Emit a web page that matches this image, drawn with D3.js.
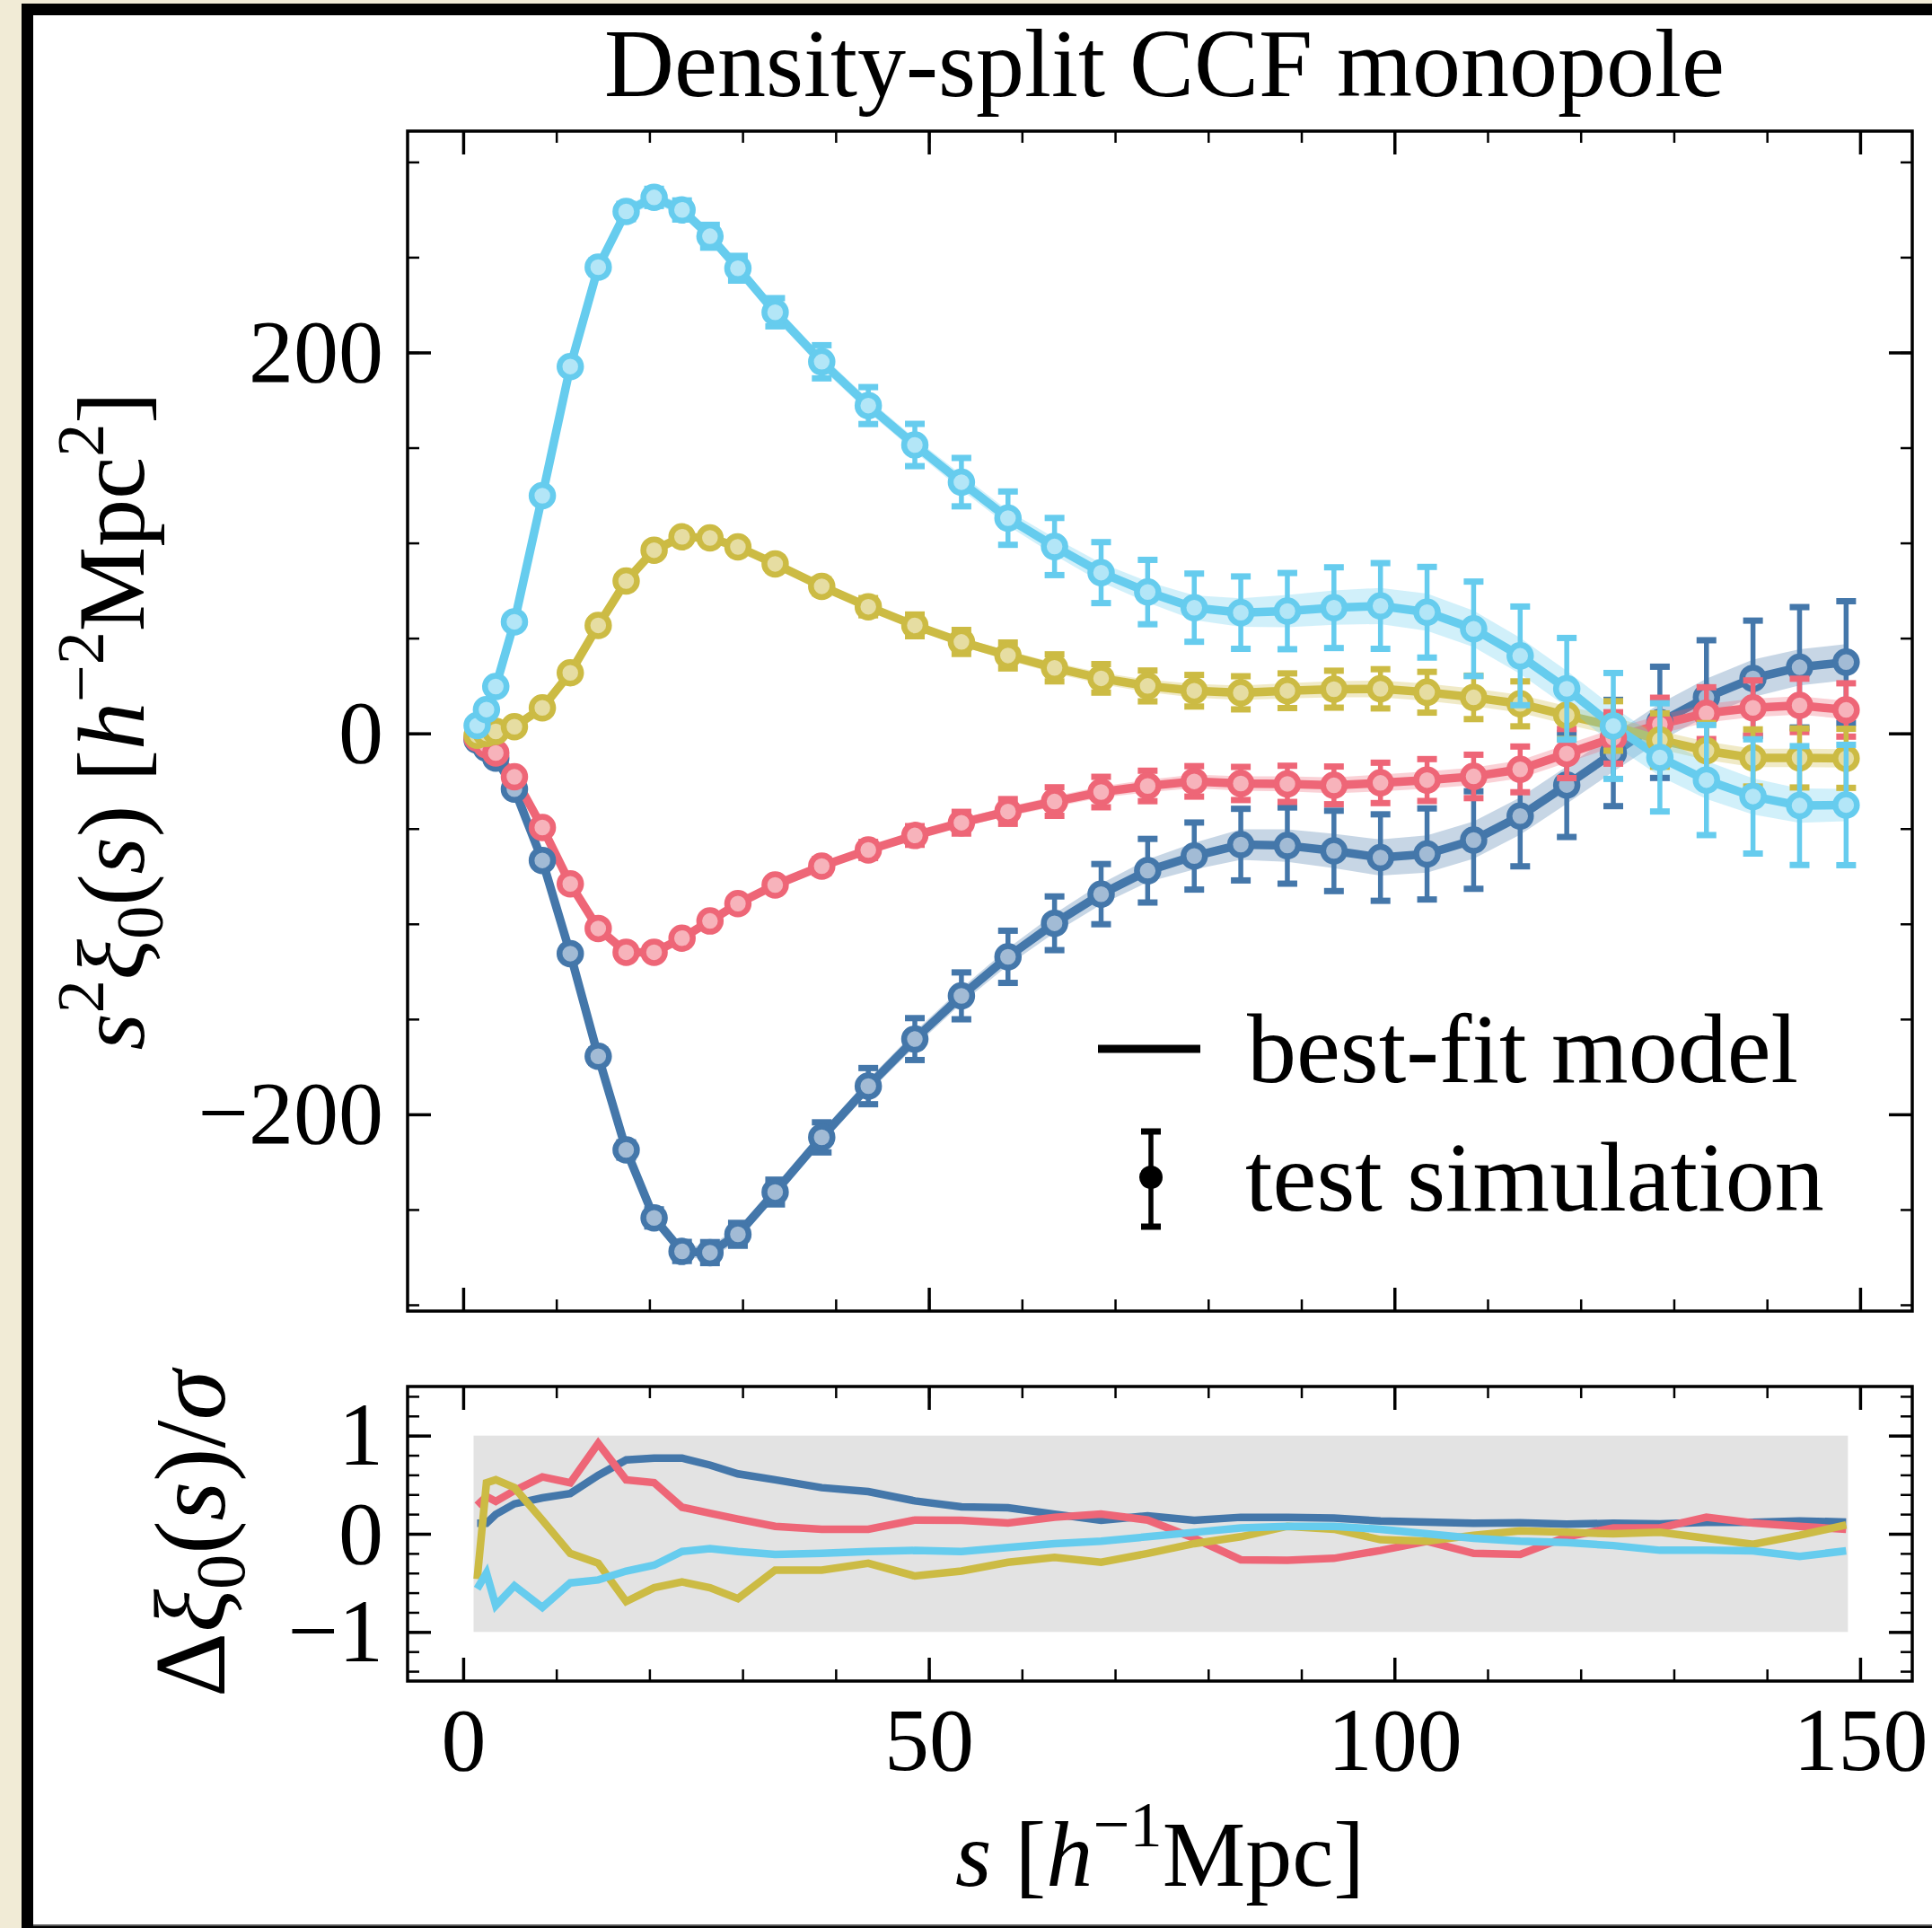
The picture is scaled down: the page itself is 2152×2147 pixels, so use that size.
<!DOCTYPE html>
<html><head><meta charset="utf-8">
<script src="https://cdn.jsdelivr.net/npm/d3@7"></script>
<style>html,body{margin:0;padding:0;background:#f1ebd6}svg{display:block}</style>
</head><body>
<script>
// ---------------- data ----------------
const sValues = [1.5,2.5,3.5,5.5,8.5,11.5,14.5,17.5,20.5,23.5,26.5,29.5,33.5,38.5,43.5,48.5,53.5,58.5,63.5,68.5,73.5,78.5,83.5,88.5,93.5,98.5,103.5,108.5,113.5,118.5,123.5,128.5,133.5,138.5,143.5,148.5];

const ds1Values = [-3.5,-7.8,-13,-29.3,-66.7,-115.6,-169.5,-218.7,-254.4,-272,-272.6,-263,-240.8,-212.1,-185.2,-160.5,-137.8,-117.3,-99.7,-84.4,-72.1,-64.4,-58.4,-58.9,-61.7,-65.2,-63.3,-56,-43.4,-27.1,-10.3,5.8,18.9,28.9,34.7,37.4];
const ds2Values = [-2.5,-6,-10.3,-22.8,-49.4,-79,-102.4,-114.9,-114.9,-107.5,-98.5,-89.4,-79.6,-69.7,-61.2,-53.6,-46.9,-41,-35.8,-30.8,-27.6,-25.2,-26.3,-26.5,-27.3,-26,-24.5,-22.6,-18.9,-10.6,-2.4,4.7,10.6,13.4,14.7,12.3];
const ds4Values = [-1,0,1,3.5,13.4,31.8,56.7,80,96.2,103.2,102.6,97.9,89,77.2,66.5,56.7,48,40.9,34.4,28.9,24.9,22.4,21.3,22.4,23.2,23.4,21.6,18.9,15.5,9.5,3.9,-3.5,-9.1,-12.9,-12.9,-13.1];
const ds5Values = [4.1,12.5,24.6,58.6,124.8,192.6,244.8,274,281.4,274.8,261,244.2,221.1,195.1,172.1,151.4,131.9,113,98.1,84.4,74.2,66,63.4,64.2,66,66.9,63.6,54.9,40.7,23.4,3.9,-12.6,-24.5,-33.1,-37.9,-37.6];

const ds1Errors = [1,1,1.5,2,2.5,3,3.5,4,4.5,5,5.5,6,6.5,7.9,9.5,11,12.3,13.7,14.1,15.8,16.7,17.6,18.8,20,21.1,22.7,23.9,25.6,26.4,27.3,27.9,29.2,30,30.3,31.6,32];
const ds2Errors = [0.5,0.5,0.8,1,1.2,1.5,1.8,2,2.2,2.5,2.8,3,3.3,3.7,4.2,4.9,5.7,6.5,7.5,8,8,8,8.7,9.5,9.9,10.6,11,11.4,12,12.9,13.5,14,13.6,14.4,14,14];
const ds4Errors = [0.5,0.5,0.8,1,1.2,1.5,1.8,2,2.2,2.5,2.8,3,3.3,3.7,4.5,5.7,6.3,6.8,7.1,7.5,8.1,8.3,8.7,9.1,9.7,10.3,10.7,11.4,11.8,12.5,13,14,14.5,15,15.5,15.5];
const ds5Errors = [1,1,1.5,2,2.5,3,3.5,4,4.5,5,6,6.5,7.4,8.7,9.7,11.1,12.7,14,15,16,16.9,17.9,19,20,21.2,22.5,23.8,24.8,25.9,26.7,27.8,28.4,28.9,30,31.2,31.6];

const ds1Band = [1,1,1.5,2,2.5,3,3,3,3,3,3.5,3.5,3.5,3.5,3.5,4,4,4.5,5,5.5,6,7,8,8.5,9,9.5,9.8,9.8,9.8,9.8,9.8,9.8,9.8,9.8,9.5,9.5];
const ds2Band = [0.5,0.5,0.8,1,1,1.2,1.2,1.3,1.3,1.4,1.5,1.5,1.6,1.7,1.8,2,2.2,2.5,2.8,3,3.3,3.6,3.8,4,4.2,4.4,4.5,4.6,4.7,4.8,4.8,4.8,4.8,4.8,4.8,4.8];
const ds4Band = [0.5,0.5,0.8,1,1,1.2,1.2,1.3,1.3,1.4,1.5,1.5,1.6,1.7,1.8,2,2.2,2.5,2.8,3,3.3,3.6,3.8,4,4.2,4.4,4.5,4.6,4.7,4.8,4.8,4.8,4.8,4.8,4.8,4.8];
const ds5Band = [1,1,1.5,2,2.5,3,3,3,3,3,3.5,3.5,3.5,3.5,3.5,3.5,4,4,4.5,5,5.5,6.5,7.5,8.5,9,9.5,9.8,9.5,9.5,9.5,10,10,10,9.5,9,8.5];

const ds1Residual = [0.107,0.107,0.198,0.305,0.366,0.41,0.595,0.753,0.771,0.771,0.70,0.61,0.55,0.47,0.43,0.335,0.274,0.265,0.2,0.137,0.183,0.137,0.168,0.168,0.16,0.13,0.12,0.107,0.113,0.098,0.107,0.1,0.116,0.116,0.13,0.12];
const ds2Residual = [0.29,0.38,0.33,0.44,0.58,0.52,0.92,0.55,0.52,0.27,0.21,0.15,0.076,0.046,0.046,0.14,0.137,0.11,0.168,0.2,0.14,-0.046,-0.265,-0.27,-0.25,-0.17,-0.076,-0.2,-0.21,-0.03,0.06,0.06,0.168,0.11,0.076,0.046];
const ds4Residual = [-0.46,0.52,0.55,0.47,0.14,-0.2,-0.3,-0.69,-0.55,-0.49,-0.55,-0.66,-0.37,-0.37,-0.3,-0.43,-0.38,-0.29,-0.24,-0.29,-0.2,-0.1,-0.03,0.076,0.046,-0.06,-0.076,-0.015,0.03,0.015,0.0,0.015,-0.046,-0.107,-0.015,0.09];
const ds5Residual = [-0.56,-0.4,-0.73,-0.53,-0.75,-0.5,-0.47,-0.38,-0.32,-0.18,-0.15,-0.18,-0.21,-0.2,-0.18,-0.17,-0.18,-0.14,-0.1,-0.076,-0.03,0.015,0.06,0.076,0.076,0.046,0.0,-0.046,-0.076,-0.09,-0.12,-0.168,-0.168,-0.174,-0.23,-0.174];

const xMajorTicks = [0,50,100,150];
const yMainMajorTicks = [-200,0,200];
const yResMajorTicks = [-1,0,1];
const legendLabels = ["best-fit model","test simulation"];
const titleText = "Density-split CCF monopole";

const series = [
  {name:"DS1", color:"#4477AA", values:ds1Values, errors:ds1Errors, band:ds1Band, residual:ds1Residual},
  {name:"DS2", color:"#EE6677", values:ds2Values, errors:ds2Errors, band:ds2Band, residual:ds2Residual},
  {name:"DS4", color:"#CCBB44", values:ds4Values, errors:ds4Errors, band:ds4Band, residual:ds4Residual},
  {name:"DS5", color:"#66CCEE", values:ds5Values, errors:ds5Errors, band:ds5Band, residual:ds5Residual}
];

// ---------------- layout ----------------
const W = 2152, H = 2147;
const FONT = "'Liberation Serif','Times New Roman',serif";
const L = 454, R = 2130;
const mainTop = 146, mainBot = 1460;
const resTop = 1544, resBot = 1872;

const svg = d3.select("body").append("svg").attr("width", W).attr("height", H);

// frame
svg.append("rect").attr("x",0).attr("y",0).attr("width",W).attr("height",H).attr("fill","#f1ebd6");
svg.append("rect").attr("x",24).attr("y",4).attr("width",W-24).attr("height",H-4).attr("fill","#000");
svg.append("rect").attr("x",37).attr("y",17).attr("width",W-37).attr("height",2126).attr("fill","#fff");
svg.append("rect").attr("x",37).attr("y",2143).attr("width",W-37).attr("height",2).attr("fill","#555");

const x = d3.scaleLinear().domain([-5.97,155.6]).range([L,R]);
const yMain = d3.scaleLinear().domain([-303.3,316.2]).range([mainBot,mainTop]);
const yRes = d3.scaleLinear().domain([-1.5,1.5]).range([resBot,resTop]);

const light = c => d3.interpolateRgb(c, "#fff")(0.5);

// ---------- main panel ----------
const gMain = svg.append("g");
const pts = s => sValues.map((v,i)=>({s:v, v:s.values[i], e:s.errors[i], b:s.band[i]}));

series.forEach(s => {
  const d = pts(s);
  gMain.append("path").datum(d)
    .attr("d", d3.area().x(p=>x(p.s)).y0(p=>yMain(p.v-p.b)).y1(p=>yMain(p.v+p.b)))
    .attr("fill", s.color).attr("fill-opacity", 0.3);
  gMain.append("path").datum(d)
    .attr("d", d3.line().x(p=>x(p.s)).y(p=>yMain(p.v)))
    .attr("fill","none").attr("stroke", s.color).attr("stroke-width", 9.5).attr("stroke-linejoin","round");
});
series.forEach(s => {
  const d = pts(s);
  const g = gMain.append("g");
  g.selectAll("line.eb").data(d).join("line").attr("class","eb")
    .attr("x1",p=>x(p.s)).attr("x2",p=>x(p.s))
    .attr("y1",p=>yMain(p.v-p.e)).attr("y2",p=>yMain(p.v+p.e))
    .attr("stroke", s.color).attr("stroke-width", 5.5);
  ["lo","hi"].forEach(k => {
    g.selectAll("line.cap"+k).data(d).join("line").attr("class","cap"+k)
      .attr("x1",p=>x(p.s)-11).attr("x2",p=>x(p.s)+11)
      .attr("y1",p=>yMain(k==="lo"?p.v-p.e:p.v+p.e)).attr("y2",p=>yMain(k==="lo"?p.v-p.e:p.v+p.e))
      .attr("stroke", s.color).attr("stroke-width", 7);
  });
  g.selectAll("circle").data(d).join("circle")
    .attr("cx",p=>x(p.s)).attr("cy",p=>yMain(p.v)).attr("r",12)
    .attr("fill", light(s.color)).attr("stroke", s.color).attr("stroke-width", 6.5);
});

// ---------- residual panel ----------
const gRes = svg.append("g");
gRes.append("rect")
  .attr("x", x(sValues[0])-4).attr("width", x(sValues[sValues.length-1])-x(sValues[0])+6)
  .attr("y", yRes(1)).attr("height", yRes(-1)-yRes(1))
  .attr("fill", "#e3e3e3");
series.forEach(s => {
  gRes.append("path").datum(sValues.map((v,i)=>[v, s.residual[i]]))
    .attr("d", d3.line().x(p=>x(p[0])).y(p=>yRes(p[1])))
    .attr("fill","none").attr("stroke", s.color).attr("stroke-width", 8.5).attr("stroke-linejoin","miter");
});

// ---------- axes ----------
function styleAxis(g, fs){
  g.select(".domain").remove();
  g.selectAll(".tick line").attr("stroke","#000");
  g.selectAll("text").attr("font-family",FONT).attr("font-size",fs).attr("fill","#000");
}
function drawFrame(top, bot, yScale, yMajor, yMinorStep, showX){
  const minorX = d3.range(0, 156, 10);
  const yd = yScale.domain();
  const minorY = d3.range(Math.ceil(yd[0]/yMinorStep)*yMinorStep, yd[1]+1e-9, yMinorStep);
  const h = bot-top, w = R-L;
  let g = svg.append("g").attr("transform",`translate(0,${bot})`)
    .call(d3.axisBottom(x).tickValues(minorX).tickSize(-13).tickFormat(""));
  styleAxis(g); g.selectAll(".tick line").attr("stroke-width",2.5);
  g = svg.append("g").attr("transform",`translate(0,${bot})`)
    .call(d3.axisBottom(x).tickValues(xMajorTicks).tickSize(-26).tickPadding(28)
      .tickFormat(showX ? d3.format("d") : ""));
  styleAxis(g, 100); g.selectAll(".tick line").attr("stroke-width",3.5);
  g = svg.append("g").attr("transform",`translate(0,${top})`)
    .call(d3.axisTop(x).tickValues(minorX).tickSize(-13).tickFormat(""));
  styleAxis(g); g.selectAll(".tick line").attr("stroke-width",2.5);
  g = svg.append("g").attr("transform",`translate(0,${top})`)
    .call(d3.axisTop(x).tickValues(xMajorTicks).tickSize(-26).tickFormat(""));
  styleAxis(g); g.selectAll(".tick line").attr("stroke-width",3.5);
  g = svg.append("g").attr("transform",`translate(${L},0)`)
    .call(d3.axisLeft(yScale).tickValues(minorY).tickSize(-13).tickFormat(""));
  styleAxis(g); g.selectAll(".tick line").attr("stroke-width",2.5);
  g = svg.append("g").attr("transform",`translate(${L},0)`)
    .call(d3.axisLeft(yScale).tickValues(yMajor).tickSize(-26).tickPadding(27).tickFormat(d3.format("d")));
  styleAxis(g, 100); g.selectAll(".tick line").attr("stroke-width",3.5);
  g = svg.append("g").attr("transform",`translate(${R},0)`)
    .call(d3.axisRight(yScale).tickValues(minorY).tickSize(-13).tickFormat(""));
  styleAxis(g); g.selectAll(".tick line").attr("stroke-width",2.5);
  g = svg.append("g").attr("transform",`translate(${R},0)`)
    .call(d3.axisRight(yScale).tickValues(yMajor).tickSize(-26).tickFormat(""));
  styleAxis(g); g.selectAll(".tick line").attr("stroke-width",3.5);
  svg.append("rect").attr("x",L).attr("y",top).attr("width",w).attr("height",h)
    .attr("fill","none").attr("stroke","#000").attr("stroke-width",3.5);
}
drawFrame(mainTop, mainBot, yMain, yMainMajorTicks, 50, false);
drawFrame(resTop, resBot, yRes, yResMajorTicks, 0.2, true);

// ---------- text helpers ----------
function mathText(g, parts, fs){
  const t = g.append("text").attr("font-family",FONT).attr("font-size",fs).attr("fill","#000");
  let cur = 0;
  parts.forEach(p => {
    const target = p.sup ? -0.42*fs : p.sub ? 0.2*fs : 0;
    t.append("tspan").text(p.t)
      .attr("dy", target-cur)
      .attr("font-style", p.i ? "italic" : "normal")
      .attr("font-size", (p.sup||p.sub) ? fs*0.7 : fs);
    cur = target;
  });
  return t;
}

svg.append("text").attr("x",1297).attr("y",107).attr("text-anchor","middle")
  .attr("font-family",FONT).attr("font-size",108).text(titleText);

mathText(svg.append("g").attr("transform","translate(1292,2100)"),
  [{t:"s",i:true},{t:" ["},{t:"h",i:true},{t:"−1",sup:true},{t:"Mpc"},{t:"]"}], 104)
  .attr("text-anchor","middle");

mathText(svg.append("g").attr("transform","translate(160,803) rotate(-90)"),
  [{t:"s",i:true},{t:"2",sup:true},{t:"ξ",i:true},{t:"0",sub:true},{t:"("},{t:"s",i:true},{t:") ["},
   {t:"h",i:true},{t:"−2",sup:true},{t:"Mpc"},{t:"2",sup:true},{t:"]"}], 106)
  .attr("text-anchor","middle");

mathText(svg.append("g").attr("transform","translate(250,1708) rotate(-90)"),
  [{t:"Δ"},{t:"ξ",i:true},{t:"0",sub:true},{t:"("},{t:"s",i:true},{t:")/"},{t:"σ",i:true}], 112)
  .attr("text-anchor","middle");

// legend
const lg = svg.append("g");
lg.append("line").attr("x1",1223).attr("x2",1337).attr("y1",1168).attr("y2",1168)
  .attr("stroke","#000").attr("stroke-width",9);
lg.append("line").attr("x1",1282).attr("x2",1282).attr("y1",1260).attr("y2",1366)
  .attr("stroke","#000").attr("stroke-width",5.5);
[1260,1366].forEach(yy => lg.append("line").attr("x1",1271).attr("x2",1293).attr("y1",yy).attr("y2",yy)
  .attr("stroke","#000").attr("stroke-width",7));
lg.append("circle").attr("cx",1282).attr("cy",1311).attr("r",13).attr("fill","#000");
lg.selectAll("text.lab").data(legendLabels).join("text").attr("class","lab")
  .attr("x",(d,i)=> i===0 ? 1389 : 1387).attr("y",(d,i)=> i===0 ? 1205 : 1348)
  .attr("font-family",FONT).attr("font-size",110).text(d=>d);
</script>
</body></html>
